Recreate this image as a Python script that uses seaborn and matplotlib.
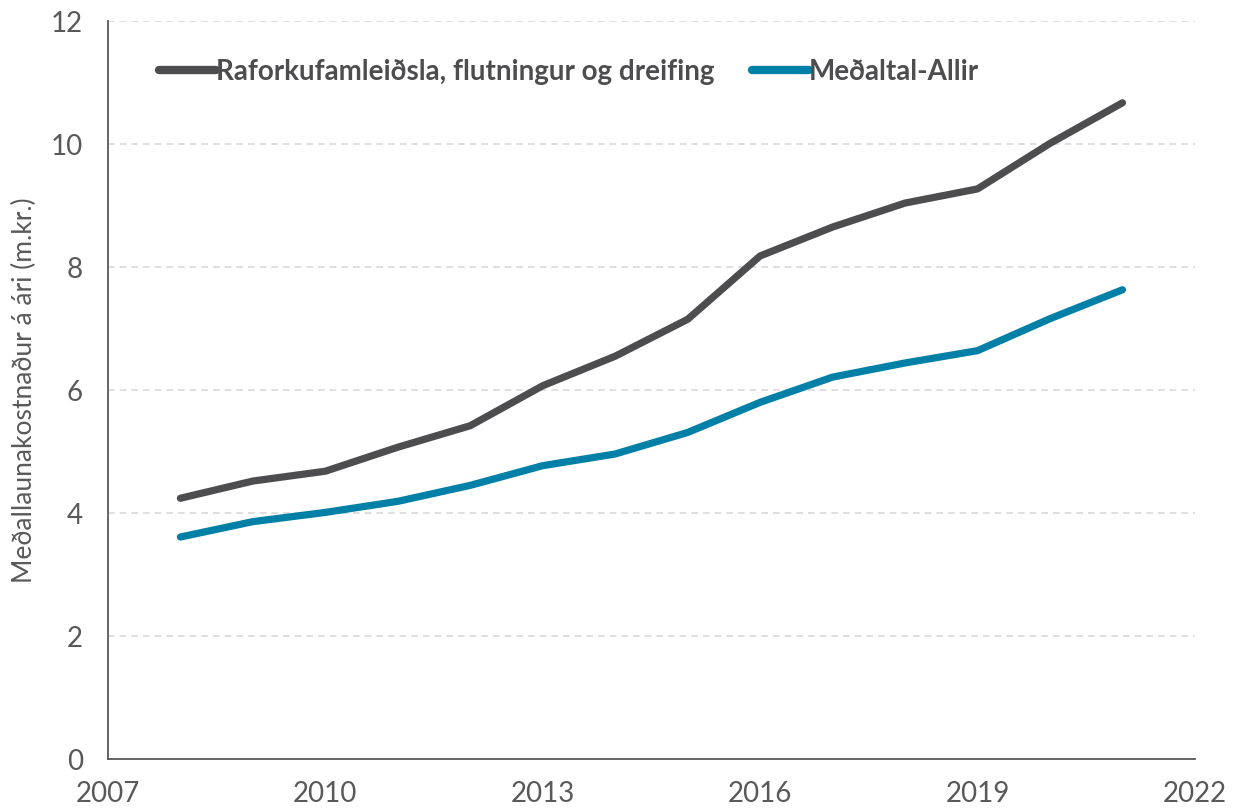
import matplotlib
matplotlib.use("Agg")
import matplotlib.pyplot as plt
import seaborn as sns
import pandas as pd

# Values (m.kr. per year)
years = [2008, 2009, 2010, 2011, 2012, 2013, 2014, 2015, 2016, 2017, 2018, 2019, 2020, 2021]
raforka = [4.24, 4.52, 4.68, 5.07, 5.42, 6.07, 6.55, 7.15, 8.18, 8.65, 9.04, 9.27, 10.01, 10.67]
medaltal = [3.61, 3.86, 4.01, 4.19, 4.45, 4.77, 4.96, 5.31, 5.80, 6.21, 6.44, 6.64, 7.16, 7.63]

series_names = ["Raforkufamleiðsla, flutningur og dreifing", "Meðaltal-Allir"]
series_colors = ["#4d4d4f", "#0080a6"]

x_ticks = [2007, 2010, 2013, 2016, 2019, 2022]
y_ticks = [0, 2, 4, 6, 8, 10, 12]
y_label = "Meðallaunakostnaður á ári (m.kr.)"

df = pd.DataFrame({
    "year": years * 2,
    "value": raforka + medaltal,
    "series": [series_names[0]] * len(years) + [series_names[1]] * len(years),
})

sns.set_theme(style="white")
plt.rcParams["font.family"] = ["Lato", "DejaVu Sans"]

fig = plt.figure(figsize=(12.38, 8.08), dpi=100)
ax = fig.add_axes([0.0872, 0.0606, 0.878, 0.9134])

sns.lineplot(data=df, x="year", y="value", hue="series", palette=series_colors,
             linewidth=5.2, ax=ax, legend=True,
             solid_capstyle="round", solid_joinstyle="round")

ax.set_xlim(2007, 2022)
ax.set_ylim(0, 12)
ax.set_xticks(x_ticks)
ax.set_yticks(y_ticks)
ax.tick_params(axis="both", length=0, labelsize=20, colors="#595959")
ax.tick_params(axis="y", pad=18)
ax.tick_params(axis="x", pad=16)
ax.set_xlabel("")
ax.set_ylabel(y_label, fontsize=19, color="#595959", labelpad=10)

ax.yaxis.grid(True, color="#d9d9d9", linestyle=(0, (4, 3)), linewidth=1.2)
ax.xaxis.grid(False)
for side in ["top", "right"]:
    ax.spines[side].set_visible(False)
for side in ["left", "bottom"]:
    ax.spines[side].set_color("#595959")
    ax.spines[side].set_linewidth(1.3)

leg = ax.legend(loc="upper left", bbox_to_anchor=(0.024, 0.983), ncol=2, frameon=False,
                handlelength=2.05, handletextpad=0.0, columnspacing=1.35,
                prop={"family": ["Lato", "DejaVu Sans"], "weight": "bold", "size": 20})
for text in leg.get_texts():
    text.set_color("#4d4d4f")
for line in leg.get_lines():
    line.set_linewidth(6)
    line.set_solid_capstyle("round")

fig.savefig("out.png", dpi=100)
